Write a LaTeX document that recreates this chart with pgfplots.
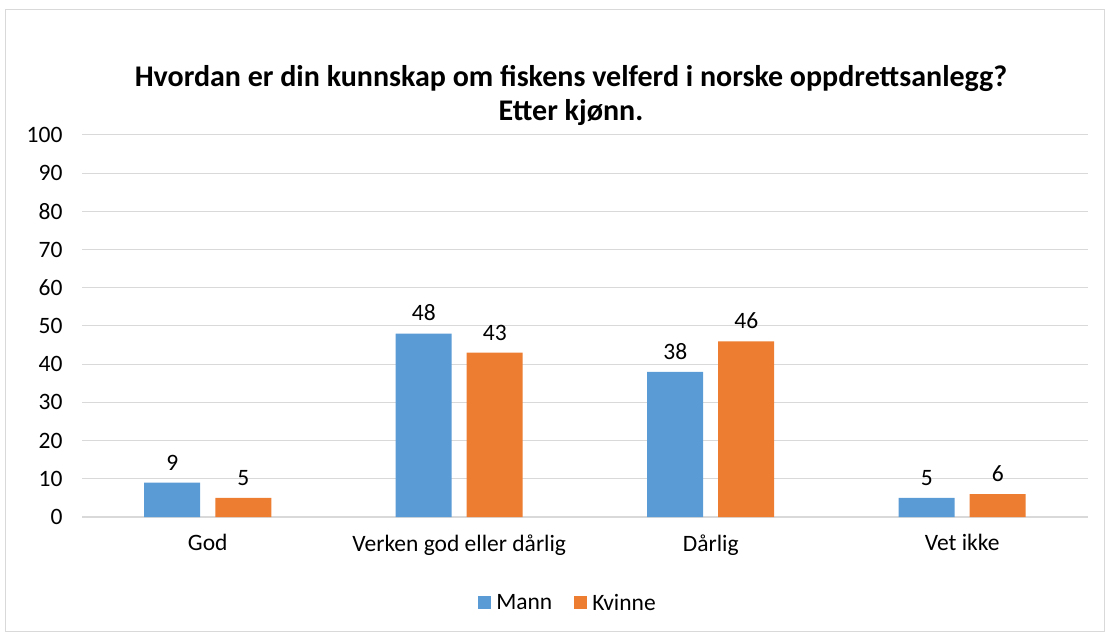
\documentclass[border=0pt]{standalone}
\usepackage{pgfplots}
\pgfplotsset{compat=1.18}
\usepackage{fontspec}
\setmainfont{Carlito}
\definecolor{mblue}{HTML}{5B9BD5}
\definecolor{korange}{HTML}{ED7D31}
\definecolor{gridc}{HTML}{D9D9D9}
\begin{document}
\begin{tikzpicture}[x=1pt,y=1pt]
\useasboundingbox (0,0) rectangle (1105,632);
\draw[gridc, line width=1pt] (5.5,0.5) rectangle (1104,622);
\node[font=\fontsize{30}{34}\selectfont\bfseries, align=center] at (571,537)
  {Hvordan er din kunnskap om fiskens velferd i norske oppdrettsanlegg?\\Etter kjønn.};
\begin{axis}[
  at={(82pt,115pt)}, anchor=south west,
  scale only axis, width=1006pt, height=382pt,
  xmin=-0.5, xmax=3.5, ymin=0, ymax=100,
  ybar=15pt, bar width=56pt,
  xtick={0,1,2,3},
  xticklabels={God,Verken god eller dårlig,Dårlig,Vet ikke},
  ytick={0,10,...,100},
  ymajorgrids, grid style={gridc, line width=1pt},
  axis x line*=bottom, axis y line*=left,
  y axis line style={draw=none},
  x axis line style={gridc, line width=1.5pt, -},
  major tick length=0pt,
  tick label style={font=\fontsize{23.5}{28}\selectfont},
  /pgf/number format/assume math mode=true,
  xticklabel style={yshift=-14pt},
  yticklabel style={xshift=-16pt},
  nodes near coords,
  every node near coord/.append style={font=\fontsize{23.5}{28}\selectfont, black, yshift=9pt},
  legend style={at={(0.5,-0.225)}, anchor=center, xshift=-17pt, draw=none, legend columns=2,
    font=\fontsize{23.5}{28}\selectfont,
    /tikz/every even column/.append style={column sep=20pt},
    /tikz/every odd column/.append style={column sep=3pt}},
  legend image code/.code={\fill[#1] (0pt,-6.5pt) rectangle (13pt,6.5pt);},
]
\addplot[fill=mblue, draw=none] coordinates {(0,9) (1,48) (2,38) (3,5)};
\addplot[fill=korange, draw=none] coordinates {(0,5) (1,43) (2,46) (3,6)};
\legend{Mann,Kvinne}
\end{axis}
\end{tikzpicture}
\end{document}
